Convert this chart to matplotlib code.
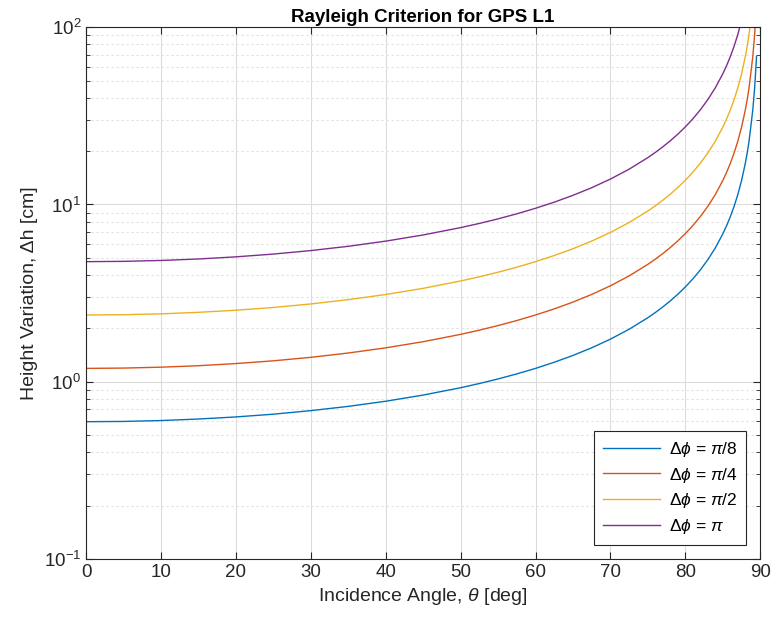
import matplotlib
matplotlib.use('Agg')
import matplotlib.pyplot as plt
from matplotlib.ticker import LogLocator, NullFormatter

plt.rcParams['font.family'] = ['Liberation Sans', 'DejaVu Sans']
plt.rcParams['mathtext.fontset'] = 'custom'
plt.rcParams['mathtext.rm'] = 'Liberation Sans'
plt.rcParams['mathtext.it'] = 'Liberation Sans:italic'

# incidence angle samples [deg] and height variation [cm]
theta = [0, 5, 10, 15, 20, 25, 30, 35, 40, 45,
         50, 52.5, 55, 57.5, 60, 62.5, 65, 67.5, 70, 72.5,
         75, 76, 77, 78, 79, 80, 81, 82, 83, 84,
         85, 85.5, 86, 86.5, 87, 87.5, 88, 88.25, 88.5, 89,
         89.25, 89.5]
dh_pi8 = [0.595, 0.597, 0.604, 0.616, 0.633, 0.656, 0.687, 0.726, 0.776, 0.841,
          0.925, 0.977, 1.037, 1.107, 1.189, 1.288, 1.407, 1.554, 1.739, 1.978,
          2.298, 2.458, 2.644, 2.860, 3.117, 3.425, 3.802, 4.273, 4.880, 5.690,
          6.823, 7.580, 8.525, 9.741, 11.36, 13.63, 17.04, 19.47, 22.72, 34.08,
          45.43, 68.15]
dh_pi4 = [1.189, 1.194, 1.208, 1.231, 1.266, 1.312, 1.373, 1.452, 1.553, 1.682,
          1.850, 1.954, 2.074, 2.214, 2.379, 2.576, 2.814, 3.108, 3.478, 3.955,
          4.596, 4.916, 5.287, 5.720, 6.233, 6.850, 7.603, 8.546, 9.760, 11.38,
          13.65, 15.16, 17.05, 19.48, 22.72, 27.27, 34.08, 38.95, 45.43, 68.15,
          90.86, 136.3]
dh_pi2 = [2.379, 2.388, 2.415, 2.463, 2.531, 2.624, 2.746, 2.904, 3.105, 3.364,
          3.701, 3.908, 4.147, 4.427, 4.757, 5.152, 5.628, 6.216, 6.956, 7.911,
          9.191, 9.833, 10.58, 11.44, 12.47, 13.70, 15.21, 17.09, 19.52, 22.76,
          27.29, 30.32, 34.10, 38.96, 45.45, 54.54, 68.15, 77.90, 90.86, 136.3,
          181.7, 272.6]
dh_pi = [4.757, 4.775, 4.831, 4.925, 5.063, 5.249, 5.493, 5.807, 6.210, 6.728,
         7.401, 7.815, 8.294, 8.854, 9.515, 10.30, 11.26, 12.43, 13.91, 15.82,
         18.38, 19.67, 21.15, 22.88, 24.93, 27.40, 30.41, 34.18, 39.04, 45.51,
         54.58, 60.64, 68.20, 77.93, 90.90, 109.1, 136.3, 155.8, 181.7, 272.6,
         363.4, 545.1]

labels = [r'$\Delta\phi$ = $\pi$/8', r'$\Delta\phi$ = $\pi$/4',
          r'$\Delta\phi$ = $\pi$/2', r'$\Delta\phi$ = $\pi$']
colors = ['#0072BD', '#D95319', '#EDB120', '#7E2F8E']
series = [dh_pi8, dh_pi4, dh_pi2, dh_pi]

txt = '#262626'
fig = plt.figure(figsize=(7.75, 6.32), dpi=100)
ax = fig.add_axes([0.111, 0.1155, 0.870, 0.8415])

for s, c, l in zip(series, colors, labels):
    ax.plot(theta, s, color=c, linewidth=1.0, label=l)

ax.set_yscale('log')
ax.set_xlim(0, 90)
ax.set_ylim(0.1, 100)
ax.set_xticks(range(0, 91, 10))
ax.yaxis.set_minor_locator(LogLocator(base=10, subs=range(2, 10)))
ax.yaxis.set_minor_formatter(NullFormatter())

ax.grid(True, which='major', color='#dcdcdc', linewidth=0.8, linestyle='-')
ax.grid(True, which='minor', axis='y', color='#e0e0e0', linewidth=0.8, linestyle=(0, (2, 2.5)))
ax.set_axisbelow(True)

ax.tick_params(which='both', direction='in', top=True, right=True, colors=txt,
               labelsize=13.5)
ax.tick_params(which='major', length=5)
ax.tick_params(which='minor', length=3)
for sp in ax.spines.values():
    sp.set_color(txt)
    sp.set_linewidth(0.8)

ax.set_xlabel(r'Incidence Angle, $\it{\theta}$ [deg]', fontsize=14, color=txt)
ax.set_ylabel('Height Variation, Δh [cm]', fontsize=14, color=txt)
ax.set_title('Rayleigh Criterion for GPS L1', fontsize=13.5, fontweight='bold', color='black', pad=4)

leg = ax.legend(loc='lower right', fontsize=12.5, fancybox=False, framealpha=1,
                edgecolor=txt, borderaxespad=0.8, handlelength=3.3,
                handletextpad=0.5, labelspacing=0.4, borderpad=0.5)
leg.get_frame().set_linewidth(0.8)

plt.savefig('out.png', dpi=100)
